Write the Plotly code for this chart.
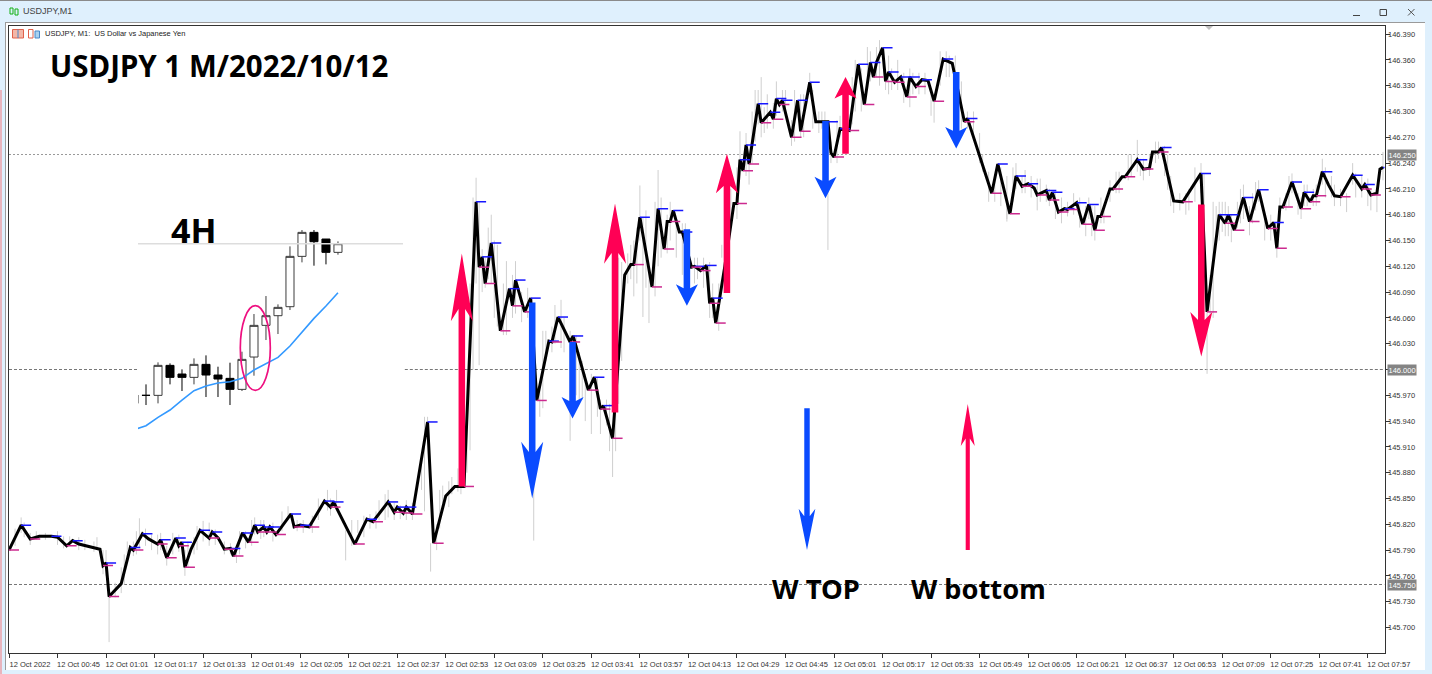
import plotly.graph_objects as go

# zigzag vertices, minutes after 00:00 on 12 Oct 2022 and price
zig_t = [29, 33, 36, 39, 43, 45, 48, 50, 52, 56, 59, 60, 61, 62, 66, 69, 70, 73, 75, 78, 79, 81, 84, 85, 86, 87, 89, 92, 95, 96,
         98, 100, 102, 103, 106, 108, 110, 111, 113, 114, 115, 117, 122, 123, 125, 128, 133, 135, 136, 143, 147, 149, 154, 156, 157, 159, 160, 162, 167, 169,
         173, 176, 179, 183, 184, 185, 186, 188, 191, 194, 195, 196, 199, 201, 203, 207, 208, 210, 214, 215, 220, 222, 224, 225, 228, 232, 234, 235, 237, 241,
         243, 245, 246, 247, 248, 250, 251, 254, 255, 257, 259, 260, 261, 262, 265, 268, 269, 270, 271, 272, 273, 276, 277, 280, 281, 282, 283, 284, 287, 289,
         290, 293, 295, 299, 300, 301, 303, 306, 309, 311, 313, 314, 315, 317, 318, 319, 321, 323, 325, 326, 328, 330, 332, 334, 337, 340, 344, 345, 353, 355,
         359, 361, 363, 365, 367, 368, 371, 372, 373, 375, 377, 378, 381, 383, 385, 387, 388, 389, 392, 393, 396, 397, 401, 403, 405, 406, 408, 409, 413, 416,
         422, 424, 428, 430, 431, 433, 436, 438, 441, 444, 446, 447, 448, 449, 452, 455, 456, 458, 459, 460, 462, 464, 466, 468, 472, 475, 476, 478, 480, 481, 482]
zig_p = [145.790, 145.819, 145.803, 145.806, 145.806, 145.805, 145.795, 145.801, 145.797, 145.794, 145.791, 145.772, 145.775, 145.736, 145.751, 145.793, 145.790, 145.809, 145.803, 145.797, 145.802, 145.781, 145.804, 145.795, 145.799, 145.770, 145.791, 145.813, 145.804, 145.811,
         145.804, 145.791, 145.792, 145.783, 145.810, 145.799, 145.819, 145.811, 145.817, 145.811, 145.817, 145.808, 145.832, 145.817, 145.819, 145.817, 145.847, 145.840, 145.846, 145.797, 145.826, 145.823, 145.846, 145.834, 145.840, 145.833, 145.840, 145.832, 145.939, 145.798,
         145.853, 145.864, 145.864, 146.195, 146.119, 146.131, 146.100, 146.147, 146.045, 146.094, 146.074, 146.104, 146.067, 146.083, 145.964, 146.033, 146.032, 146.061, 146.032, 146.039, 145.976, 145.991, 145.954, 145.958, 145.920, 146.110, 146.122, 146.122, 146.177, 146.096,
         146.187, 146.140, 146.172, 146.172, 146.185, 146.160, 146.160, 146.119, 146.120, 146.115, 146.121, 146.077, 146.083, 146.054, 146.120, 146.193, 146.193, 146.244, 146.231, 146.261, 146.239, 146.309, 146.287, 146.299, 146.291, 146.315, 146.308, 146.313, 146.270, 146.313,
         146.277, 146.334, 146.288, 146.288, 146.252, 146.247, 146.280, 146.278, 146.355, 146.308, 146.357, 146.340, 146.357, 146.374, 146.335, 146.346, 146.334, 146.340, 146.317, 146.340, 146.329, 146.337, 146.336, 146.312, 146.361, 146.356, 146.288, 146.292, 146.205, 146.239,
         146.181, 146.225, 146.213, 146.216, 146.211, 146.203, 146.208, 146.197, 146.206, 146.183, 146.187, 146.186, 146.194, 146.169, 146.192, 146.162, 146.178, 146.178, 146.210, 146.210, 146.224, 146.224, 146.244, 146.233, 146.234, 146.253, 146.253, 146.258, 146.196, 146.195,
         146.228, 146.067, 146.180, 146.170, 146.180, 146.162, 146.200, 146.172, 146.209, 146.164, 146.171, 146.141, 146.189, 146.189, 146.218, 146.187, 146.206, 146.195, 146.202, 146.202, 146.230, 146.215, 146.202, 146.201, 146.226, 146.210, 146.215, 146.203, 146.205, 146.233, 146.235]

# thin one minute candle wicks
wick_t = [33, 36, 45, 52, 58, 60, 62, 66, 68, 70, 72, 74, 79, 81, 85, 87, 90, 93, 97, 102, 104, 107, 110, 112, 116, 121, 124, 129, 134, 137,
          140, 144, 148, 151, 154, 158, 162, 165, 168, 170, 172, 175, 177, 180, 181, 183, 184, 186, 188, 190, 193, 196, 198, 202, 205, 208, 211, 214, 217, 219,
          221, 224, 226, 228, 230, 233, 235, 237, 238, 240, 243, 246, 249, 252, 255, 258, 261, 264, 267, 270, 273, 275, 277, 279, 282, 285, 288, 291, 294, 297,
          299, 302, 305, 308, 312, 316, 319, 322, 326, 329, 334, 336, 339, 343, 347, 350, 354, 358, 361, 364, 368, 372, 376, 380, 384, 387, 390, 395, 398, 401,
          403, 407, 411, 413, 418, 423, 424, 426, 428, 430, 432, 435, 438, 440, 443, 447, 451, 454, 457, 460, 463, 466, 470, 473, 477, 480, 482,
          31, 34, 38, 41, 47, 49, 54, 57, 61, 64, 67, 71, 76, 78, 83, 88, 91, 95, 100, 105, 109, 113, 119, 126, 131, 135, 142, 146, 150, 153, 156, 160,
          166, 167, 171, 174, 178, 182, 185, 187, 189, 192, 195, 200, 204, 206, 209, 212, 216, 218, 223, 227, 229, 231, 234, 236, 239, 242, 244, 247, 251, 253, 256, 260, 263, 266, 269,
          272, 274, 276, 278, 281, 284, 287, 290, 293, 296, 298, 300, 303, 307, 310, 313, 315, 318, 320, 324, 327, 331, 333, 338, 341, 345, 349, 352, 356, 358, 360, 363, 366, 369, 371,
          374, 378, 382, 385, 386, 389, 392, 394, 399, 402, 405, 408, 410, 412, 415, 417, 420, 422, 425, 427, 429, 431, 434, 436, 439, 441, 445, 448, 450, 452, 455, 456, 459, 462, 465, 468, 472, 475, 478]
wick_low = [145.810, 145.796, 145.796, 145.790, 145.790, 145.762, 145.683, 145.740, 145.775, 145.783, 145.793, 145.795, 145.790, 145.772, 145.788, 145.760, 145.785, 145.800, 145.796, 145.785, 145.775, 145.792, 145.808, 145.803, 145.800, 145.825, 145.812, 145.810, 145.836, 145.838,
            145.778, 145.810, 145.815, 145.825, 145.828, 145.826, 145.825, 145.860, 145.765, 145.790, 145.845, 145.855, 145.858, 145.880, 145.906, 146.100, 146.005, 146.095, 146.100, 146.050, 146.040, 146.065, 146.055, 145.801, 145.955, 146.020, 146.025, 145.917, 145.960, 145.940,
            145.925, 145.925, 145.935, 145.875, 145.960, 146.100, 146.085, 146.150, 146.061, 146.054, 146.120, 146.135, 146.130, 146.090, 146.100, 146.095, 146.060, 146.130, 146.174, 146.230, 146.215, 146.265, 146.270, 146.280, 146.295, 146.295, 146.265, 146.270, 146.280, 146.280,
            146.139, 146.240, 146.250, 146.300, 146.330, 146.330, 146.320, 146.325, 146.305, 146.320, 146.287, 146.330, 146.340, 146.280, 146.270, 146.230, 146.195, 146.172, 146.210, 146.205, 146.185, 146.190, 146.170, 146.180, 146.155, 146.150, 146.170, 146.205, 146.220, 146.230,
            146.220, 146.240, 146.209, 146.182, 146.185, 146.137, 145.995, 146.060, 146.150, 146.155, 146.148, 146.170, 146.156, 146.185, 146.150, 146.130, 146.190, 146.180, 146.190, 146.190, 146.200, 146.190, 146.183, 146.200, 146.190, 146.183, 146.220,
            145.795, 145.805, 145.802, 145.802, 145.792, 145.795, 145.790, 145.788, 145.760, 145.735, 145.750, 145.785, 145.790, 145.785, 145.785, 145.770, 145.790, 145.795, 145.785, 145.785, 145.795, 145.805, 145.812, 145.810, 145.825, 145.830, 145.795, 145.805, 145.815, 145.825, 145.825, 145.825,
            145.835, 145.925, 145.815, 145.840, 145.855, 146.000, 146.090, 146.105, 146.060, 146.040, 146.060, 146.060, 145.945, 146.010, 146.030, 146.020, 145.970, 145.965, 145.945, 145.905, 145.905, 146.010, 146.105, 146.100, 146.095, 146.085, 146.130, 146.150, 146.110, 146.105, 146.105, 146.060, 146.045, 146.110, 146.175,
            146.225, 146.240, 146.285, 146.275, 146.280, 146.300, 146.260, 146.270, 146.320, 146.275, 146.275, 146.240, 146.270, 146.285, 146.300, 146.335, 146.340, 146.325, 146.325, 146.310, 146.320, 146.320, 146.295, 146.340, 146.340, 146.280, 146.240, 146.195, 146.190, 146.175, 146.195, 146.205, 146.200, 146.195, 146.195,
            146.175, 146.178, 146.165, 146.175, 146.155, 146.170, 146.195, 146.205, 146.225, 146.225, 146.225, 146.245, 146.225, 146.190, 146.185, 146.180, 146.195, 146.205, 146.060, 146.150, 146.160, 146.155, 146.165, 146.175, 146.170, 146.195, 146.150, 146.180, 146.185, 146.205, 146.175, 146.190, 146.190, 146.215, 146.200, 146.190, 146.215, 146.200, 146.185]
wick_high = [145.828, 145.810, 145.812, 145.805, 145.805, 145.790, 145.736, 145.770, 145.800, 145.800, 145.827, 145.815, 145.810, 145.795, 145.808, 145.790, 145.805, 145.824, 145.814, 145.798, 145.795, 145.812, 145.828, 145.825, 145.822, 145.841, 145.825, 145.830, 145.860, 145.860,
             145.813, 145.825, 145.832, 145.848, 145.860, 145.842, 145.845, 145.900, 145.798, 145.820, 145.865, 145.875, 145.885, 146.000, 146.100, 146.223, 146.195, 146.130, 146.180, 146.145, 146.126, 146.126, 146.090, 145.964, 146.045, 146.050, 146.081, 146.045, 146.020, 145.995,
             145.995, 145.965, 145.965, 145.925, 146.130, 146.135, 146.150, 146.214, 146.177, 146.120, 146.232, 146.180, 146.170, 146.170, 146.130, 146.130, 146.100, 146.145, 146.210, 146.277, 146.260, 146.325, 146.340, 146.320, 146.335, 146.325, 146.325, 146.320, 146.325, 146.300,
             146.288, 146.290, 146.300, 146.360, 146.375, 146.383, 146.365, 146.360, 146.350, 146.345, 146.320, 146.370, 146.365, 146.335, 146.300, 146.250, 146.225, 146.225, 146.240, 146.232, 146.222, 146.210, 146.200, 146.205, 146.190, 146.190, 146.190, 146.230, 146.250, 146.267,
             146.245, 146.265, 146.250, 146.200, 146.210, 146.228, 146.067, 146.195, 146.195, 146.195, 146.180, 146.210, 146.190, 146.218, 146.180, 146.170, 146.225, 146.205, 146.215, 146.215, 146.235, 146.215, 146.205, 146.228, 146.222, 146.210, 146.253,
             145.815, 145.822, 145.812, 145.810, 145.806, 145.806, 145.802, 145.800, 145.790, 145.752, 145.785, 145.812, 145.808, 145.808, 145.810, 145.800, 145.818, 145.822, 145.800, 145.812, 145.825, 145.825, 145.835, 145.825, 145.850, 145.850, 145.825, 145.830, 145.835, 145.855, 145.845, 145.848,
             145.945, 145.945, 145.860, 145.870, 145.885, 146.200, 146.140, 146.165, 146.150, 146.100, 146.110, 146.095, 145.985, 146.045, 146.075, 146.060, 146.040, 146.010, 145.990, 145.960, 146.000, 146.125, 146.145, 146.165, 146.185, 146.195, 146.200, 146.195, 146.170, 146.135, 146.130, 146.125, 146.100, 146.205, 146.235,
             146.275, 146.300, 146.325, 146.305, 146.310, 146.325, 146.290, 146.320, 146.345, 146.300, 146.300, 146.265, 146.295, 146.340, 146.350, 146.370, 146.375, 146.350, 146.350, 146.345, 146.345, 146.345, 146.325, 146.370, 146.365, 146.300, 146.275, 146.230, 146.235, 146.200, 146.235, 146.225, 146.225, 146.222, 146.215,
             146.205, 146.195, 146.200, 146.200, 146.190, 146.200, 146.220, 146.230, 146.250, 146.245, 146.250, 146.265, 146.260, 146.225, 146.205, 146.205, 146.235, 146.240, 146.110, 146.190, 146.195, 146.190, 146.195, 146.215, 146.205, 146.220, 146.180, 146.200, 146.205, 146.228, 146.200, 146.215, 146.210, 146.245, 146.225, 146.210, 146.240, 146.225, 146.210]

# hand drawn arrows, tail / tip / base of the head in price
arrow_t = [178.3, 201.5, 214.8, 228.8, 252.5, 265.7, 298.2, 304.8, 341.3, 422.1, 292.1, 345.1]
arrow_tail = [145.864, 146.078, 146.032, 145.950, 146.163, 146.089, 146.289, 146.251, 146.346, 146.192, 145.955, 145.790]
arrow_tip = [146.135, 145.850, 145.943, 146.193, 146.074, 146.251, 146.199, 146.340, 146.257, 146.015, 145.790, 145.960]
arrow_barb = [146.056, 145.916, 145.968, 146.123, 146.099, 146.205, 146.224, 146.315, 146.282, 146.067, 145.838, 145.911]
arrow_kind = ["up", "down", "down", "up", "down", "up", "down", "up", "down", "up", "down", "up"]

# the pasted 4H chart, first candle is cut off by the edge of the picture
h4_open = [580, 556, 556, 466, 492, 502, 463, 495, 505, 538, 441, 346, 317, 290, 139, 67, 87, 127]
h4_close = [555, 556, 466, 502, 502, 463, 495, 507, 538, 448, 346, 317, 292, 139, 67, 95, 127, 101]
h4_high = [555, 523, 457, 460, 478, 445, 436, 470, 458, 425, 312, 258, 283, 109, 60, 60, 87, 94]
h4_low = [580, 585, 580, 523, 543, 523, 561, 561, 585, 543, 497, 390, 372, 300, 157, 167, 163, 134]
h4_ma = [659, 647, 622, 600, 570, 542, 528, 519, 515, 505, 480, 460, 442, 408, 365, 325, 288, 248]

tick_minutes = list(range(29, 478, 16))
tick_text = ["12 Oct 2022", "12 Oct 00:45", "12 Oct 01:01", "12 Oct 01:17", "12 Oct 01:33", "12 Oct 01:49", "12 Oct 02:05", "12 Oct 02:21",
             "12 Oct 02:37", "12 Oct 02:53", "12 Oct 03:09", "12 Oct 03:25", "12 Oct 03:41", "12 Oct 03:57", "12 Oct 04:13", "12 Oct 04:29",
             "12 Oct 04:45", "12 Oct 05:01", "12 Oct 05:17", "12 Oct 05:33", "12 Oct 05:49", "12 Oct 06:05", "12 Oct 06:21", "12 Oct 06:37",
             "12 Oct 06:53", "12 Oct 07:09", "12 Oct 07:25", "12 Oct 07:41", "12 Oct 07:57"]
price_ticks = [146.39, 146.36, 146.33, 146.30, 146.27, 146.24, 146.21, 146.18, 146.15, 146.12, 146.09, 146.06, 146.03, 146.00,
               145.97, 145.94, 145.91, 145.88, 145.85, 145.82, 145.79, 145.76, 145.73, 145.70]
level_prices = [146.25, 146.00, 145.75]

W, H = 1432, 674
PINK = "#ff0055"
BLUE = "#0a4bff"
WINDOW = "#dff0fd"
LABEL_FONT = "Liberation Sans"
BIG_FONT = "Noto Sans"


def fx(px):
    return px / W


def fy(px):
    return 1 - px / H


def arrow_shape(t, tail, tip, barb, half, shaft):
    # filled barbed arrow, half and shaft are half widths in minutes
    neck = barb + (tip - barb) * 0.18
    return ([t - shaft, t - shaft, t - half, t, t + half, t + shaft, t + shaft, t - shaft],
            [tail, neck, barb, tip, barb, neck, tail, tail])


fig = go.Figure()

# dashed price levels, the 146.000 one is hidden behind the pasted 4H picture
fig.add_trace(go.Scatter(x=[29, 482.5], y=[level_prices[0]] * 2, mode="lines", line=dict(color="#999999", width=1, dash="2px,2px")))
fig.add_trace(go.Scatter(x=[29, 71.5, None, 159.5, 482.5], y=[level_prices[1]] * 2 + [None] + [level_prices[1]] * 2, mode="lines",
                         line=dict(color="#777777", width=1, dash="3px,2px")))
fig.add_trace(go.Scatter(x=[29, 482.5], y=[level_prices[2]] * 2, mode="lines", line=dict(color="#777777", width=1, dash="3px,2px")))

# grey wicks
wx, wy = [], []
for t, lo, hi in zip(wick_t, wick_low, wick_high):
    wx += [t, t, None]
    wy += [lo, hi, None]
fig.add_trace(go.Scatter(x=wx, y=wy, mode="lines", line=dict(color="#cfcfcf", width=1)))

# zigzag line
fig.add_trace(go.Scatter(x=zig_t, y=zig_p, mode="lines", line=dict(color="#000000", width=3)))

# small blue / pink dashes on the swing highs and lows
hx, hy, lx, ly = [], [], [], []
for i, (t, p) in enumerate(zip(zig_t, zig_p)):
    before = zig_p[i - 1] if i > 0 else None
    after = zig_p[i + 1] if i < len(zig_p) - 1 else None
    is_high = (before is None or p >= before) and (after is None or p > after)
    is_low = (before is None or p <= before) and (after is None or p < after)
    if is_high:
        hx += [t, t + 3.3, None]
        hy += [p, p, None]
    elif is_low:
        lx += [t, t + 3.3, None]
        ly += [p, p, None]
fig.add_trace(go.Scatter(x=hx, y=hy, mode="lines", line=dict(color="#1616ff", width=1.5)))
fig.add_trace(go.Scatter(x=lx, y=ly, mode="lines", line=dict(color="#cc2a8f", width=1.5)))

# arrows
for i in range(len(arrow_t)):
    half, shaft = 3.63, 1.08
    if i == 10:
        half, shaft = 2.75, 0.9
    if i == 11:
        half, shaft = 2.3, 0.68
    ax, ay = arrow_shape(arrow_t[i], arrow_tail[i], arrow_tip[i], arrow_barb[i], half, shaft)
    colour = PINK if arrow_kind[i] == "up" else BLUE
    fig.add_trace(go.Scatter(x=ax, y=ay, mode="lines", fill="toself", fillcolor=colour, line=dict(color=colour, width=0)))

# 4H inset, values are a relative scale since that picture has no axis
inset = [(680 - v) / 3 for v in h4_open], [(680 - v) / 3 for v in h4_high], [(680 - v) / 3 for v in h4_low], [(680 - v) / 3 for v in h4_close]
idx = list(range(len(h4_open)))
fig.add_trace(go.Candlestick(x=idx, open=inset[0], high=inset[1], low=inset[2], close=inset[3], xaxis="x2", yaxis="y2",
                             increasing=dict(fillcolor="#ffffff", line=dict(color="#3c3c3c", width=1)),
                             decreasing=dict(fillcolor="#000000", line=dict(color="#000000", width=1))))
fig.add_trace(go.Scatter(x=idx, y=[(680 - v) / 3 for v in h4_ma], mode="lines", xaxis="x2", yaxis="y2", line=dict(color="#3399ff", width=1.6)))
fig.add_trace(go.Scatter(x=[0, 23], y=[193, 193], mode="lines", xaxis="x2", yaxis="y2", line=dict(color="#dddddd", width=1.5)))

shapes = [
    # window frame
    dict(type="rect", xref="paper", yref="paper", x0=fx(5), x1=fx(1425), y0=fy(670), y1=fy(22), fillcolor="#ffffff", line=dict(width=0), layer="below"),
    dict(type="line", xref="paper", yref="paper", x0=0, x1=1, y0=fy(0.5), y1=fy(0.5), line=dict(color="#8a8a8a", width=1)),
    dict(type="line", xref="paper", yref="paper", x0=fx(5), x1=fx(1425), y0=fy(22.5), y1=fy(22.5), line=dict(color="#9a9a9a", width=1)),
    dict(type="line", xref="paper", yref="paper", x0=fx(5.5), x1=fx(5.5), y0=fy(670), y1=fy(22), line=dict(color="#9a9a9a", width=1)),
    dict(type="rect", xref="paper", yref="paper", x0=0, x1=fx(2), y0=fy(674), y1=fy(90), fillcolor="#e8b4bd", line=dict(width=0)),
    # window buttons
    dict(type="line", xref="paper", yref="paper", x0=fx(1353), x1=fx(1360), y0=fy(15.5), y1=fy(15.5), line=dict(color="#444444", width=1)),
    dict(type="rect", xref="paper", yref="paper", x0=fx(1380), x1=fx(1386.5), y0=fy(15.5), y1=fy(9.5), line=dict(color="#444444", width=1)),
    dict(type="line", xref="paper", yref="paper", x0=fx(1408), x1=fx(1414.5), y0=fy(15.5), y1=fy(9), line=dict(color="#555555", width=1)),
    dict(type="line", xref="paper", yref="paper", x0=fx(1408), x1=fx(1414.5), y0=fy(9), y1=fy(15.5), line=dict(color="#555555", width=1)),
    # green candle icon in the title bar
    dict(type="rect", xref="paper", yref="paper", x0=fx(10), x1=fx(13), y0=fy(14), y1=fy(8), line=dict(color="#12b012", width=1)),
    dict(type="rect", xref="paper", yref="paper", x0=fx(15), x1=fx(18), y0=fy(15), y1=fy(9), line=dict(color="#12b012", width=1)),
    # chart toolbar icons
    dict(type="rect", xref="paper", yref="paper", x0=fx(12.5), x1=fx(23.5), y0=fy(38), y1=fy(29.5), fillcolor="#f3b7a8", line=dict(color="#e0604a", width=1)),
    dict(type="line", xref="paper", yref="paper", x0=fx(18), x1=fx(18), y0=fy(38), y1=fy(29.5), line=dict(color="#4a88c8", width=1)),
    dict(type="rect", xref="paper", yref="paper", x0=fx(28.5), x1=fx(33), y0=fy(38), y1=fy(29.5), fillcolor="#ffffff", line=dict(color="#e0604a", width=1)),
    dict(type="rect", xref="paper", yref="paper", x0=fx(35), x1=fx(39.5), y0=fy(38), y1=fy(31), fillcolor="#a9d2f0", line=dict(color="#4a88c8", width=1)),
    # shift marker at the top of the chart
    dict(type="path", xref="paper", yref="paper", path=f"M {fx(1205)} {fy(26)} L {fx(1213)} {fy(26)} L {fx(1209)} {fy(30)} Z", fillcolor="#c0c0c0", line=dict(width=0)),
    # ellipse round the breakout candle
    dict(type="circle", xref="x2", yref="y2", x0=8.86, x1=11.36, y0=46.3, y1=131, line=dict(color="#ee1080", width=1.7)),
]

annotations = [
    dict(text="<b>USDJPY 1 M/2022/10/12</b>", x=fx(49), y=fy(66), font=dict(family=BIG_FONT, size=29.5, color="#000000")),
    dict(text="<b>4H</b>", x=fx(170), y=fy(230), font=dict(family=BIG_FONT, size=34, color="#000000")),
    dict(text="<b>W TOP</b>", x=fx(771), y=fy(588), font=dict(family=BIG_FONT, size=27.5, color="#000000")),
    dict(text="<b>W bottom</b>", x=fx(910), y=fy(588), font=dict(family=BIG_FONT, size=27.2, color="#000000")),
    dict(text="USDJPY,M1", x=fx(22), y=fy(11), font=dict(family=LABEL_FONT, size=9, color="#444444")),
    dict(text="USDJPY, M1:  US Dollar vs Japanese Yen", x=fx(44), y=fy(34), font=dict(family=LABEL_FONT, size=7.5, color="#222222")),
]
for a in annotations:
    a.update(xref="paper", yref="paper", xanchor="left", yanchor="middle", showarrow=False, borderpad=0)

# grey boxes on the price scale for the three levels
for level in level_prices:
    annotations.append(dict(text=f"{level:.3f}", xref="paper", x=fx(1387), yref="y", y=level, xanchor="left", yanchor="middle", showarrow=False,
                            bgcolor="#848484", borderpad=0.5, font=dict(family=LABEL_FONT, size=7.5, color="#ffffff")))

fig.update_layout(
    width=W, height=H, margin=dict(l=0, r=0, t=0, b=0), showlegend=False,
    paper_bgcolor=WINDOW, plot_bgcolor="#ffffff", boxgap=0, boxgroupgap=0.33,
    xaxis=dict(domain=[fx(9), fx(1384.5)], range=[29, 482.5], tickmode="array", tickvals=tick_minutes, ticktext=tick_text,
               ticks="outside", ticklen=4, tickcolor="#333333", tickangle=0, ticklabelshift=21, ticklabelstandoff=0,
               tickfont=dict(family=LABEL_FONT, size=7.5, color="#333333"), showgrid=False, zeroline=False,
               showline=True, linecolor="#333333", linewidth=1, mirror=True, automargin=False),
    yaxis=dict(domain=[fy(653.3), fy(25.5)], range=[145.670, 146.400], side="right", tickmode="array", tickvals=price_ticks,
               ticktext=[f"{p:.3f}" for p in price_ticks], ticks="outside", ticklen=4, tickcolor="#333333", ticklabelstandoff=-3,
               tickfont=dict(family=LABEL_FONT, size=7.5, color="#333333"), showgrid=False, zeroline=False,
               showline=True, linecolor="#333333", linewidth=1, mirror=True, automargin=False),
    xaxis2=dict(domain=[fx(138), fx(403)], range=[1 / 3, 22.42], anchor="y2", visible=False, rangeslider=dict(visible=False)),
    yaxis2=dict(domain=[fy(436.7), fy(210)], range=[0, 226.7], anchor="x2", visible=False),
    shapes=shapes, annotations=annotations,
)

fig.write_html("out.html", config=dict(displayModeBar=False), post_script="document.body.style.margin='0';")
